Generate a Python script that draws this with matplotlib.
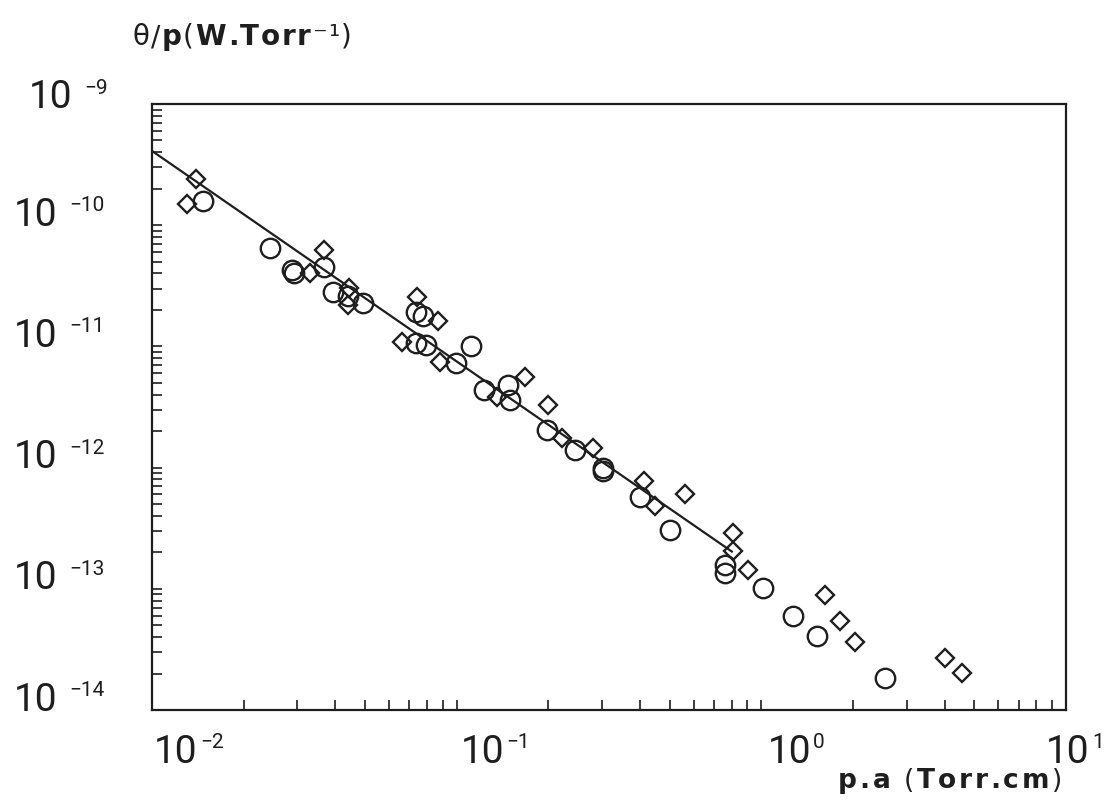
import matplotlib
matplotlib.use("Agg")
import matplotlib.pyplot as plt
from matplotlib.ticker import LogLocator, NullFormatter

# ---- data -------------------------------------------------------------
# p.a (Torr.cm) and theta/p (W/Torr) for the two series
diamond_pa = [0.01394, 0.01303, 0.03667, 0.03300, 0.04430, 0.04398, 0.0741,
              0.0868, 0.0661, 0.0881, 0.1356, 0.1676, 0.1993, 0.2216, 0.2801,
              0.4118, 0.4475, 0.5614, 0.807, 0.807, 0.9038, 1.617, 1.811,
              2.029, 4.005, 4.554]
diamond_theta = [2.39e-10, 1.51e-10, 6.30e-11, 4.00e-11, 3.04e-11, 2.20e-11,
                 2.54e-11, 1.63e-11, 1.08e-11, 7.45e-12, 3.86e-12, 5.64e-12,
                 3.29e-12, 1.75e-12, 1.46e-12, 7.73e-13, 4.79e-13, 6.10e-13,
                 2.87e-13, 2.07e-13, 1.44e-13, 8.95e-14, 5.43e-14, 3.62e-14,
                 2.67e-14, 2.03e-14]

circle_pa = [0.01470, 0.02439, 0.02880, 0.02930, 0.03667, 0.03926, 0.04398,
             0.04926, 0.07352, 0.0775, 0.07352, 0.0793, 0.1114, 0.0995,
             0.1229, 0.1474, 0.1496, 0.1978, 0.2444, 0.3020, 0.3020, 0.3996,
             0.5012, 0.7595, 0.7595, 1.012, 1.270, 1.522, 2.545]
circle_theta = [1.57e-10, 6.46e-11, 4.25e-11, 4.05e-11, 4.56e-11, 2.83e-11,
                2.61e-11, 2.28e-11, 1.94e-11, 1.77e-11, 1.06e-11, 1.03e-11,
                1.01e-11, 7.29e-12, 4.34e-12, 4.76e-12, 3.58e-12, 2.04e-12,
                1.39e-12, 9.97e-13, 9.42e-13, 5.69e-13, 3.07e-13, 1.56e-13,
                1.34e-13, 1.02e-13, 5.91e-14, 4.09e-14, 1.85e-14]

# fitted power law, drawn between its two end points
fit_pa = [0.01, 0.80]
fit_theta = [4.1e-10, 2.03e-13]

x_decades = [-2, -1, 0, 1]
y_decades = [-9, -10, -11, -12, -13, -14]

y_title = "\u03b8/p(W.Torr\u207b\u00b9)"
x_title = "p.a (Torr.cm)"

# ---- figure -----------------------------------------------------------
W, H, DPI = 1110, 805, 100
INK = "#1e1e1e"
PT = 72.0 / DPI          # points per pixel

fig = plt.figure(figsize=(W / DPI, H / DPI), dpi=DPI)
fig.patch.set_facecolor("white")
L, R, T, B = 152, 1066, 104, 710
ax = fig.add_axes([L / W, 1 - B / H, (R - L) / W, (B - T) / H])

ax.set_xscale("log")
ax.set_yscale("log")
ax.set_xlim(1e-2, 1e1)
ax.set_ylim(1e-14, 1e-9)

ax.plot(fit_pa, fit_theta, color=INK, lw=1.6, zorder=2)
ax.plot(circle_pa, circle_theta, ls="none", marker="o", ms=14,
        mfc="none", mec=INK, mew=1.7, zorder=3)
ax.plot(diamond_pa, diamond_theta, ls="none", marker="D", ms=9.5,
        mfc="none", mec=INK, mew=1.7, zorder=3)

for sp in ax.spines.values():
    sp.set_linewidth(1.6)
    sp.set_color(INK)

ax.xaxis.set_major_locator(LogLocator(base=10, numticks=10))
ax.yaxis.set_major_locator(LogLocator(base=10, numticks=10))
ax.xaxis.set_minor_locator(LogLocator(base=10, subs=range(2, 10), numticks=20))
ax.yaxis.set_minor_locator(LogLocator(base=10, subs=range(2, 10), numticks=20))
for axis in (ax.xaxis, ax.yaxis):
    axis.set_major_formatter(NullFormatter())
    axis.set_minor_formatter(NullFormatter())
ax.tick_params(which="both", direction="in", length=7, width=1.2,
               color=INK, top=False, right=False)

LABEL_FONT = ["Roboto", "DejaVu Sans"]
MAIN_SIZE, SUP_SIZE = 28, 15
LABEL_W = "normal"


def exp_text(k):
    return ("\u2212%d" % (-k)) if k < 0 else "%d" % k


def y_label(k, right_px, up_px):
    """'10' right-aligned at right_px (figure px), centred up_px above the tick."""
    dx = (right_px - L) * PT
    ax.annotate("10", xy=(0, 10.0 ** k), xycoords=("axes fraction", "data"),
                xytext=(dx, up_px * PT), textcoords="offset points",
                ha="right", va="center_baseline", fontsize=MAIN_SIZE,
                family=LABEL_FONT, weight=LABEL_W, color=INK)
    ax.annotate(exp_text(k), xy=(0, 10.0 ** k),
                xycoords=("axes fraction", "data"),
                xytext=(dx + 12 * PT, (up_px + 15) * PT),
                textcoords="offset points", ha="left", va="top",
                fontsize=SUP_SIZE, family=LABEL_FONT, weight=LABEL_W,
                color=INK)


def x_label(k, left_dx_px, y_px):
    dy = -(y_px - B) * PT
    ax.annotate("10", xy=(10.0 ** k, 0), xycoords=("data", "axes fraction"),
                xytext=(left_dx_px * PT, dy), textcoords="offset points",
                ha="left", va="center_baseline", fontsize=MAIN_SIZE,
                family=LABEL_FONT, weight=LABEL_W, color=INK)
    ax.annotate(exp_text(k), xy=(10.0 ** k, 0),
                xycoords=("data", "axes fraction"),
                xytext=((left_dx_px + 46) * PT, dy + 15 * PT),
                textcoords="offset points", ha="left", va="top",
                fontsize=SUP_SIZE, family=LABEL_FONT, weight=LABEL_W,
                color=INK)


y_right = {-9: 72, -10: 57, -11: 57, -12: 57, -13: 57, -14: 57}
y_up = {-9: 10, -10: 14, -11: 14, -12: 14, -13: 14, -14: 14}
for k in y_decades:
    y_label(k, y_right[k], y_up[k])

x_left = {-2: 2, -1: 4, 0: 6, 1: -20}
for k in x_decades:
    x_label(k, x_left[k], 748)


def tracked_text(s, x0, x1, baseline, size, weights, family="DejaVu Sans"):
    """Write s letter by letter so that it runs from x0 to x1 (figure px)."""
    renderer = fig.canvas.get_renderer()
    probe = fig.text(0, 0, "", fontsize=size, family=family)
    advances = []
    for ch, wt in zip(s, weights):
        probe.set_text(ch if ch != " " else "n")
        probe.set_fontweight(wt)
        w = probe.get_window_extent(renderer).width
        advances.append(w if ch != " " else 0.45 * w)
    probe.remove()
    natural = sum(advances)
    track = (x1 - x0 - natural) / max(len(s) - 1, 1)
    x = x0
    for ch, wt, adv in zip(s, weights, advances):
        if ch != " ":
            fig.text(x / W, 1 - baseline / H, ch, fontsize=size, family=family,
                     fontweight=wt, color=INK, ha="left", va="baseline")
        x += adv + track


y_title_w = ["normal", "normal", "bold", "normal", "bold", "bold", "bold",
             "bold", "bold", "bold", "normal", "normal", "normal"]
tracked_text(y_title, 132, 352, 45, 20, y_title_w)

x_title_w = ["bold", "bold", "bold", "normal", "normal", "bold", "bold",
             "bold", "bold", "bold", "bold", "bold", "normal"]
tracked_text(x_title, 838, 1062, 788, 19, x_title_w)

fig.savefig("out.png", dpi=DPI, facecolor="white")
